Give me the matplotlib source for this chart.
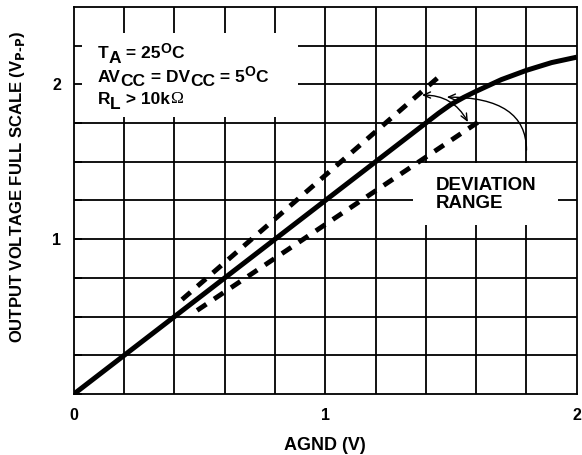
import numpy as np
import matplotlib.pyplot as plt
from matplotlib.patches import Rectangle, FancyArrowPatch

plt.rcParams['font.family'] = ['Liberation Sans', 'DejaVu Sans']
plt.rcParams['font.weight'] = 'bold'

# output full scale vs AGND
curve_x = [0, 1.45, 1.5, 1.55, 1.6, 1.7, 1.8, 1.9, 2.0]
curve_y = [0, 1.8125, 1.87, 1.915, 1.955, 2.03, 2.09, 2.14, 2.175]

# deviation range limits
upper_x = [0.43, 1.46]
upper_y = [0.61, 2.06]
lower_x = [0.49, 1.63]
lower_y = [0.54, 1.78]

x_grid = np.arange(0.2, 2.0, 0.2)
y_grid = np.arange(0.25, 2.5, 0.25)
x_labels = [0, 1, 2]
y_labels = [1, 2]

# note lines: (text, shift in pt, size)
note1 = [('T', 0, 12.5), ('A', -3.5, 12.5), (' = 25', 0, 12.5), ('O', 3.5, 10), ('C', 0, 12.5)]
note2 = [('AV', 0, 12.5), ('CC', -3.5, 12.5), (' = DV', 0, 12.5), ('CC', -3.5, 12.5), (' = 5', 0, 12.5),
         ('O', 3.5, 10), ('C', 0, 12.5)]
note3 = [('R', 0, 12.5), ('L', -3.5, 12.5), (' > 10k', 0, 12.5), ('\u03a9', 0, 12.5)]

fig = plt.figure(figsize=(5.82, 4.55), dpi=100)
ax = fig.add_axes([0.127, 0.134, 0.864, 0.851])
ax.set_xlim(0, 2)
ax.set_ylim(0, 2.5)
ax.set_axisbelow(False)

# grid
for gx in x_grid:
    ax.axvline(gx, color='black', lw=1.3, zorder=1)
for gy in y_grid:
    ax.axhline(gy, color='black', lw=1.3, zorder=1)
for s in ax.spines.values():
    s.set_linewidth(1.3)

# white boxes behind the notes
ax.add_patch(Rectangle((0, 1.79), 0.89, 0.54, facecolor='white', edgecolor='none', zorder=2))
ax.add_patch(Rectangle((1.348, 1.09), 0.576, 0.40, facecolor='white', edgecolor='none', zorder=2))

ax.plot(curve_x, curve_y, color='black', lw=3.6, solid_capstyle='butt', zorder=3)
ax.plot(upper_x, upper_y, color='black', lw=3.5, dashes=(2.3, 1.9), dash_capstyle='butt', zorder=3)
ax.plot(lower_x, lower_y, color='black', lw=3.5, dashes=(2.3, 1.9), dash_capstyle='butt', zorder=3)

# arrows
ax.add_patch(FancyArrowPatch((1.80, 1.575), (1.483, 1.917), connectionstyle='angle3,angleA=90,angleB=0',
                             arrowstyle='->,head_length=5,head_width=2.2', lw=1.0, color='black',
                             shrinkA=0, shrinkB=0, zorder=4))
ax.add_patch(FancyArrowPatch((1.384, 1.93), (1.567, 1.756), connectionstyle='arc3,rad=-0.3',
                             arrowstyle='<->,head_length=5,head_width=2.2', lw=1.0, color='black',
                             shrinkA=0, shrinkB=0, zorder=4))


def chain(x, y, pieces):
    # write pieces one after another, subscripts kept at full size
    first = pieces[0]
    prev = ax.text(x, y, first[0], fontsize=first[2], fontweight='bold', va='baseline', zorder=5)
    prev_dy, prev_size = first[1], first[2]
    for txt, dy, size in pieces[1:]:
        fam = ['Liberation Serif'] if txt == '\u03a9' else ['Liberation Sans']
        wt = 'normal' if txt == '\u03a9' else 'bold'
        rel = (dy - prev_dy) - 0.21 * (size - prev_size)
        prev = ax.annotate(txt, xy=(1, 0), xycoords=prev, xytext=(0, rel), textcoords='offset points',
                           fontsize=size, fontweight=wt, family=fam, va='bottom', ha='left', zorder=5)
        prev_dy, prev_size = dy, size


chain(0.095, 2.169, note1)
chain(0.095, 2.017, note2)
chain(0.095, 1.872, note3)

ax.text(1.44, 1.349, 'DEVIATION', fontsize=13.5, fontweight='bold', va='center', zorder=5)
ax.text(1.44, 1.233, 'RANGE', fontsize=13.5, fontweight='bold', va='center', zorder=5)

ax.set_xticks(x_labels)
ax.set_xticklabels([str(v) for v in x_labels], fontweight='bold')
yt = np.arange(0, 2.5, 0.25)
ax.set_yticks(yt)
ax.set_yticklabels([str(int(v)) if v in y_labels else '' for v in yt], fontweight='bold')
ax.tick_params(axis='x', length=0, pad=10, labelsize=11.5)
ax.tick_params(axis='y', direction='in', length=6, width=1.3, pad=9, labelsize=11.5)

ax.set_xlabel('AGND (V)', fontsize=13, fontweight='bold', labelpad=10)
ax.set_ylabel(r'OUTPUT VOLTAGE FULL SCALE (V$_{\mathbf{P\text{-}P}}$)', fontsize=12, fontweight='bold')
ax.yaxis.set_label_coords(-0.093, 0.535)

fig.savefig('out.png', dpi=100)
